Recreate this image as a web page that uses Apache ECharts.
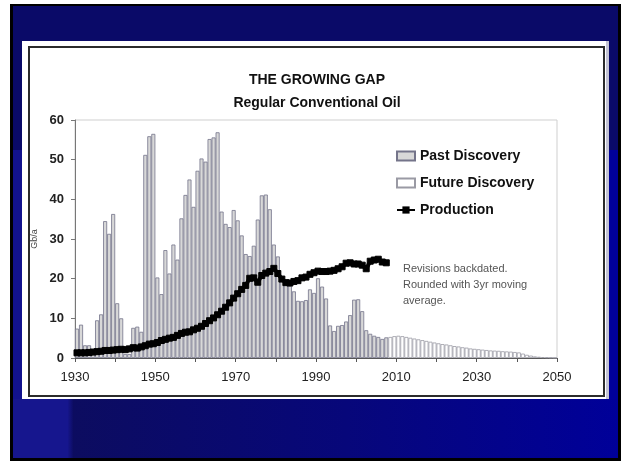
<!DOCTYPE html>
<html>
<head>
<meta charset="utf-8">
<script src="https://cdn.jsdelivr.net/npm/echarts@6/dist/echarts.min.js"></script>
<style>
  html, body { margin: 0; padding: 0; background: #fff; }
  .slide {
    position: absolute; left: 10px; top: 4px; width: 611px; height: 457px;
    box-sizing: border-box; border: 3px solid #000; border-top-width: 2px;
    background: #0a0a68;
  }
  .slide-bottom {
    position: absolute; left: 13px; top: 399px; width: 605px; height: 59px;
    background: linear-gradient(90deg, #16168e 0%, #16168e 9%, #0c0c60 10%, #07077a 55%, #000099 100%);
  }
  .slide-left { position: absolute; left: 13px; top: 150px; width: 9px; height: 249px; background: #12128e; }
  .slide-right { position: absolute; left: 606px; top: 150px; width: 12px; height: 249px; background: #00009a; }
  .panel {
    position: absolute; left: 22px; top: 41px; width: 584px; height: 358px;
    background: #fff; border-right: 3px solid #c4c4d4;
  }
  .frame {
    position: absolute; left: 28px; top: 46px; width: 577px; height: 351px;
    box-sizing: border-box; border: 2px solid #2b2b2b;
  }
  #chart { position: absolute; left: 0; top: 0; width: 621px; height: 461px; }
</style>
</head>
<body>
<div class="slide"></div>
<div class="slide-bottom"></div>
<div class="slide-left"></div>
<div class="slide-right"></div>
<div class="panel"></div>
<div class="frame"></div>
<div id="chart"></div>
<script>
// past discovery, Gb/a, 1930-2007
const pastYears = [];
for (let y = 1930; y <= 2007; y++) pastYears.push(y);
const pastDiscovery = [
  7.4, 8.4, 3.2, 3.2, 1.0, 9.5, 11.0, 34.5, 31.3, 36.3,
  13.8, 10.0, 1.0, 1.0, 7.6, 7.9, 6.6, 51.2, 55.9, 56.5,
  20.3, 16.1, 27.2, 21.3, 28.6, 24.8, 35.2, 41.1, 45.0, 38.1,
  47.2, 50.3, 49.5, 55.2, 55.6, 56.9, 36.9, 33.8, 33.0, 37.3,
  34.7, 30.9, 26.2, 25.7, 28.3, 34.9, 41.0, 41.2, 37.5, 28.6,
  25.6, 20.0, 19.0, 18.2, 16.8, 14.4, 14.3, 14.6, 17.3, 16.4,
  20.1, 18.0, 15.0, 8.2, 6.8, 8.1, 8.3, 9.2, 10.8, 14.7,
  14.8, 11.8, 7.0, 6.1, 5.6, 5.3, 4.8, 5.2
];

// future discovery, 2008-2049
const futureYears = [];
for (let y = 2008; y <= 2049; y++) futureYears.push(y);
const futureDiscovery = [
  5.3, 5.5, 5.6, 5.5, 5.3, 5.1, 4.9, 4.7, 4.5, 4.3,
  4.1, 3.9, 3.7, 3.5, 3.4, 3.2, 3.0, 2.9, 2.7, 2.6,
  2.4, 2.3, 2.2, 2.1, 2.0, 1.9, 1.85, 1.8, 1.7, 1.65,
  1.6, 1.5, 1.4, 1.1, 0.8, 0.6, 0.4, 0.3, 0.2, 0.15,
  0.1, 0.05
];

// production, 1930-2007
const production = [
  1.3, 1.3, 1.3, 1.4, 1.5, 1.6, 1.7, 1.9, 1.9, 2.0,
  2.1, 2.2, 2.1, 2.3, 2.6, 2.5, 2.8, 3.1, 3.5, 3.6,
  3.9, 4.4, 4.7, 5.0, 5.2, 5.7, 6.2, 6.5, 6.6, 7.1,
  7.5, 8.0, 8.7, 9.4, 10.1, 10.9, 11.8, 12.8, 13.9, 15.1,
  16.2, 17.3, 18.3, 20.1, 20.2, 19.1, 20.8, 21.4, 21.8, 22.6,
  21.3, 19.9, 19.0, 18.9, 19.3, 19.5, 20.2, 20.4, 21.1, 21.5,
  21.9, 21.8, 21.8, 21.9, 22.1, 22.5, 23.0, 23.9, 24.0, 23.7,
  23.7, 23.4, 22.5, 24.4, 24.7, 24.9, 24.2, 24.0
];

const xTicks = [1930, 1950, 1970, 1990, 2010, 2030, 2050];

// bars sit between year ticks
const mid = (years, vals) => years.map((y, i) => [y + 0.5, vals[i]]);

const font = 'Liberation Sans, Arial, sans-serif';
const chart = echarts.init(document.getElementById('chart'));

chart.setOption({
  backgroundColor: 'transparent',
  animation: false,
  textStyle: { fontFamily: font },
  title: {
    text: 'THE GROWING GAP',
    subtext: 'Regular Conventional Oil',
    left: 317,
    textAlign: 'center',
    top: 72,
    padding: 0,
    itemGap: 6,
    textStyle: { fontSize: 14, fontWeight: 'bold', color: '#111', fontFamily: font, lineHeight: 17 },
    subtextStyle: { fontSize: 14, fontWeight: 'bold', color: '#111', fontFamily: font, lineHeight: 17 }
  },
  legend: {
    orient: 'vertical',
    left: 396,
    top: 148,
    padding: 0,
    itemWidth: 18,
    itemHeight: 9,
    itemGap: 11,
    textStyle: { fontSize: 14, fontWeight: 'bold', color: '#111', fontFamily: font, lineHeight: 16 },
    data: [
      { name: 'Past Discovery', icon: 'rect' },
      { name: 'Future Discovery', icon: 'rect' },
      { name: 'Production' }
    ]
  },
  grid: {
    left: 75, right: 64, top: 120, bottom: 103,
    show: true, borderColor: '#cfcfcf', borderWidth: 1,
    outerBoundsMode: 'none'
  },
  xAxis: {
    type: 'value',
    min: 1930, max: 2050, interval: 10,
    axisLine: { lineStyle: { color: '#555', width: 1 } },
    axisTick: { show: true, length: 4, lineStyle: { color: '#555' } },
    splitLine: { show: false },
    axisLabel: {
      margin: 13, fontSize: 13, color: '#222', fontFamily: font,
      formatter: v => (xTicks.indexOf(v) >= 0 ? String(v) : '')
    }
  },
  yAxis: {
    type: 'value',
    min: 0, max: 60, interval: 10,
    name: 'Gb/a',
    nameLocation: 'middle',
    nameRotate: 90,
    nameGap: 34,
    nameTextStyle: { fontSize: 9, color: '#444', fontFamily: font },
    axisLine: { show: true, lineStyle: { color: '#777', width: 1 } },
    axisTick: { show: true, length: 4, lineStyle: { color: '#777' } },
    splitLine: { show: false },
    axisLabel: { margin: 11, fontSize: 13, fontWeight: 'bold', color: '#222', fontFamily: font }
  },
  graphic: [{
    type: 'text',
    left: 403,
    top: 261,
    style: {
      text: 'Revisions backdated.\nRounded with 3yr moving\naverage.',
      font: '11px ' + font,
      fill: '#555',
      lineHeight: 16
    }
  }],
  series: [
    {
      name: 'Past Discovery',
      type: 'bar',
      data: mid(pastYears, pastDiscovery),
      barWidth: 4,
      barGap: '-100%',
      itemStyle: { color: '#d8d8d8', borderColor: '#74748a', borderWidth: 0.8 },
      z: 2
    },
    {
      name: 'Future Discovery',
      type: 'bar',
      data: mid(futureYears, futureDiscovery),
      barWidth: 4,
      barGap: '-100%',
      itemStyle: { color: '#ffffff', borderColor: '#9a9aa4', borderWidth: 0.8 },
      z: 2
    },
    {
      name: 'Production',
      type: 'line',
      data: mid(pastYears, production),
      symbol: 'rect',
      symbolSize: 6,
      showSymbol: true,
      lineStyle: { color: '#000', width: 4 },
      itemStyle: { color: '#000', borderColor: '#000' },
      z: 5
    }
  ]
});
</script>
</body>
</html>
